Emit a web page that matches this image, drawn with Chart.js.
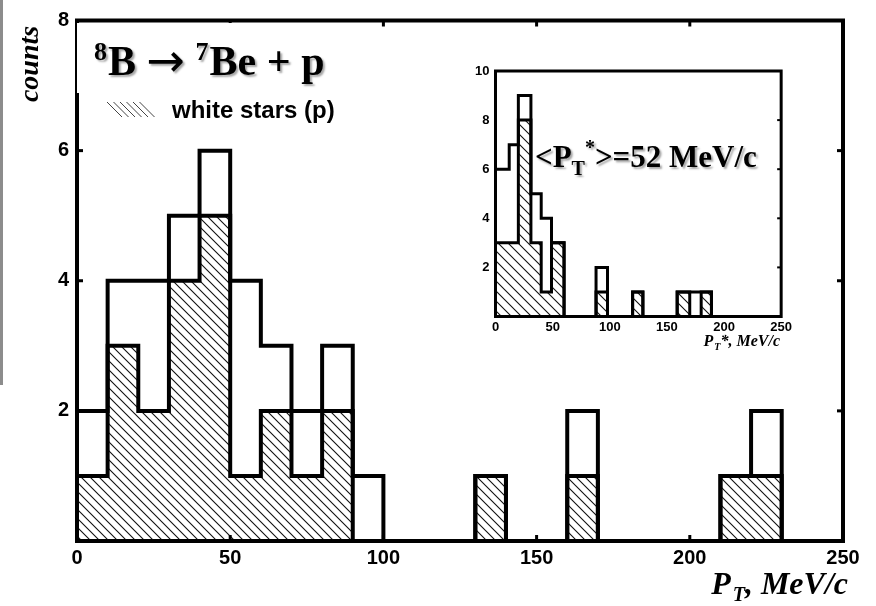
<!DOCTYPE html>
<html><head><meta charset="utf-8">
<script src="https://cdn.jsdelivr.net/npm/chart.js@4.4.0/dist/chart.umd.min.js"></script>
<style>
html,body{margin:0;padding:0;background:#fff;}
#wrap{position:relative;width:876px;height:606px;overflow:hidden;background:#fff;}
#main{position:absolute;left:0;top:0;}
#inset{position:absolute;left:445px;top:50px;}
</style></head><body>
<div id="wrap"><canvas id="main" width="876" height="606"></canvas><canvas id="inset" width="350" height="310"></canvas></div>
<script>
// ---------- main histogram data (P_T, MeV/c ; 10 MeV/c bins) ----------
const binStarts = [0,10,20,30,40,50,60,70,80,90,100,110,120,130,140,150,160,170,180,190,200,210,220,230,240];
const binWidth = 10;
const totalCounts      = [2,4,4,5,6,4,3,2,3,1,0,0,0,1,0,0,2,0,0,0,0,1,2,0,0];
const whiteStarCounts  = [1,3,2,4,5,1,2,1,2,0,0,0,0,1,0,0,1,0,0,0,0,1,1,0,0];
const xTicks = [0,50,100,150,200,250];
const yTicks = [0,2,4,6,8];

// ---------- inset histogram data (P_T*, MeV/c) ----------
const insetEdges = [0,12,20,31,40,49,60,88,98,120,129,159,170,180,189,250];
const insetTotal = [6,7,9,5,4,3,0,2,0,1,0,1,1,1,0];
const insetWhite = [3,3,8,3,1,3,0,1,0,1,0,1,0,1,0];
const insetXTicks = [0,50,100,150,200,250];
const insetYTicks = [0,2,4,6,8,10];

function mainPoints(counts){
  const pts = binStarts.map((s,i)=>({x:s,y:counts[i]}));
  pts.push({x:binStarts[binStarts.length-1]+binWidth,y:counts[counts.length-1]});
  return pts;
}
function edgePoints(edges,counts){
  const pts = counts.map((c,i)=>({x:edges[i],y:c}));
  pts.push({x:edges[edges.length-1],y:counts[counts.length-1]});
  return pts;
}
function hatch(ctx,size){
  const c=document.createElement('canvas'); c.width=size; c.height=size;
  const g=c.getContext('2d'); g.strokeStyle='#111'; g.lineWidth=1.1;
  g.beginPath();
  g.moveTo(-1,-1); g.lineTo(size+1,size+1);
  g.moveTo(-2,size-2); g.lineTo(2,size+2);
  g.moveTo(size-2,-2); g.lineTo(size+2,2);
  g.stroke();
  return ctx.createPattern(c,'repeat');
}
function runs(ctx,x,y,parts){
  let cx=x;
  parts.forEach(p=>{ctx.font=p.f; ctx.fillText(p.t,cx,y+(p.dy||0)); cx+=ctx.measureText(p.t).width+(p.gap||0);});
  return cx;
}
function line(ctx,a,b,c,d){ctx.beginPath();ctx.moveTo(a,b);ctx.lineTo(c,d);ctx.stroke();}

const SANS='"Liberation Sans", Arial, sans-serif';
const SERIF='"Liberation Serif", "Times New Roman", serif';

// ---------------- main chart ----------------
const mctx=document.getElementById('main').getContext('2d');
const mainDecor={
  id:'mainDecor',
  afterDatasetsDraw(chart){
    const ctx=chart.ctx; const {left,right,top,bottom}=chart.chartArea;
    const xs=chart.scales.x, ys=chart.scales.y;
    ctx.save();
    ctx.strokeStyle='#000'; ctx.lineWidth=4;
    ctx.strokeRect(left,top,right-left,bottom-top);
    ctx.lineWidth=3;
    xTicks.forEach(v=>{ if(v===xTicks[0]||v===xTicks[xTicks.length-1])return;
      const px=xs.getPixelForValue(v); line(ctx,px,bottom,px,bottom-6); line(ctx,px,top,px,top+6);});
    yTicks.forEach(v=>{ if(v===yTicks[0]||v===yTicks[yTicks.length-1])return;
      const py=ys.getPixelForValue(v); line(ctx,left,py,left+6,py); line(ctx,right,py,right-6,py);});
    // white title box
    ctx.fillStyle='#fff'; ctx.fillRect(left,top+2.5,270,93-top-2.5);
    // scanning artefact at left edge
    ctx.fillStyle='#8c8c8c'; ctx.fillRect(0,0,3,385);
    // title with shadow
    ctx.fillStyle='#000'; ctx.textBaseline='alphabetic'; ctx.textAlign='left';
    ctx.shadowColor='rgba(0,0,0,0.35)'; ctx.shadowOffsetX=2; ctx.shadowOffsetY=2; ctx.shadowBlur=2;
    runs(ctx,94,75,[
      {t:'8',f:'bold 26px '+SERIF,dy:-15,gap:1},
      {t:'B ',f:'bold 42px '+SERIF},
      {t:'\u2192',f:'46px "DejaVu Sans", sans-serif',dy:1},
      {t:' ',f:'bold 42px '+SERIF},
      {t:'7',f:'bold 26px '+SERIF,dy:-15,gap:1},
      {t:'Be + p',f:'bold 42px '+SERIF}
    ]);
    ctx.shadowColor='transparent'; ctx.shadowBlur=0; ctx.shadowOffsetX=0; ctx.shadowOffsetY=0;
    // legend
    ctx.strokeStyle='#444'; ctx.lineWidth=1;
    for(let i=0;i<6;i++){ const x0=107+i*6.5; line(ctx,x0,102,x0+15,117); }
    ctx.font='bold 24px '+SANS; ctx.fillStyle='#000';
    ctx.fillText('white stars (p)',172,118);
    // y title
    ctx.save(); ctx.translate(38,64); ctx.rotate(-Math.PI/2);
    ctx.font='italic bold 28px '+SERIF; ctx.textAlign='center'; ctx.fillText('counts',0,0); ctx.restore();
    // x title
    ctx.textAlign='left';
    const parts=[{t:'P',f:'italic bold 32px '+SERIF,gap:2},{t:'T',f:'italic bold 20px '+SERIF,dy:7},{t:', MeV/c',f:'italic bold 32px '+SERIF}];
    let w=0; parts.forEach(p=>{ctx.font=p.f; w+=ctx.measureText(p.t).width+(p.gap||0);});
    runs(ctx,848-w,594,parts);
    ctx.restore();
  }
};
new Chart(mctx,{
  type:'line',
  data:{datasets:[
    {label:'all',data:mainPoints(totalCounts),stepped:true,borderColor:'#000',borderWidth:4,pointRadius:0,fill:false,order:0},
    {label:'white stars (p)',data:mainPoints(whiteStarCounts),stepped:true,borderColor:'#000',borderWidth:4,pointRadius:0,fill:'origin',backgroundColor:hatch(mctx,9),order:1}
  ]},
  options:{
    responsive:false,animation:false,devicePixelRatio:1,
    layout:{padding:{top:20.5,right:33,left:0,bottom:0}},
    plugins:{legend:{display:false},tooltip:{enabled:false}},
    scales:{
      x:{type:'linear',min:0,max:250,afterBuildTicks:s=>{s.ticks=xTicks.map(v=>({value:v}));},
        grid:{display:false,drawTicks:false},border:{display:false},
        ticks:{color:'#000',font:{family:SANS,weight:'bold',size:20},padding:5,maxRotation:0},
        afterFit:s=>{s.height=65;}},
      y:{type:'linear',min:0,max:8,afterBuildTicks:s=>{s.ticks=yTicks.map(v=>({value:v}));},
        grid:{display:false,drawTicks:false},border:{display:false},
        ticks:{color:'#000',font:{family:SANS,weight:'bold',size:20},padding:8,callback:v=>v===0?'':v},
        afterFit:s=>{s.width=77;}}
    }
  },
  plugins:[mainDecor]
});

// ---------------- inset chart ----------------
const ictx=document.getElementById('inset').getContext('2d');
const insetDecor={
  id:'insetDecor',
  afterDatasetsDraw(chart){
    const ctx=chart.ctx; const {left,right,top,bottom}=chart.chartArea;
    const ys=chart.scales.y;
    ctx.save();
    ctx.strokeStyle='#000'; ctx.lineWidth=3;
    ctx.strokeRect(left,top,right-left,bottom-top);
    ctx.lineWidth=2;
    insetYTicks.forEach(v=>{ if(v===0||v===insetYTicks[insetYTicks.length-1])return;
      const py=ys.getPixelForValue(v); line(ctx,right,py,right-4,py);});
    ctx.fillStyle='#000'; ctx.textAlign='left'; ctx.textBaseline='alphabetic';
    ctx.shadowColor='rgba(0,0,0,0.35)'; ctx.shadowOffsetX=2; ctx.shadowOffsetY=2; ctx.shadowBlur=2;
    runs(ctx,90,117,[
      {t:'<P',f:'bold 31px '+SERIF},
      {t:'T',f:'bold 20px '+SERIF,dy:8},
      {t:'*',f:'bold 20px '+SERIF,dy:-13},
      {t:'>=52 MeV/c',f:'bold 31px '+SERIF}
    ]);
    ctx.shadowColor='transparent'; ctx.shadowBlur=0; ctx.shadowOffsetX=0; ctx.shadowOffsetY=0;
    const parts=[{t:'P',f:'italic bold 16px '+SERIF,gap:1},{t:'T',f:'italic bold 10px '+SERIF,dy:4},{t:'*, MeV/c',f:'italic bold 16px '+SERIF}];
    let w=0; parts.forEach(p=>{ctx.font=p.f; w+=ctx.measureText(p.t).width+(p.gap||0);});
    runs(ctx,335-w,296,parts);
    ctx.restore();
  }
};
new Chart(ictx,{
  type:'line',
  data:{datasets:[
    {label:'all',data:edgePoints(insetEdges,insetTotal),stepped:true,borderColor:'#000',borderWidth:3,pointRadius:0,fill:false,order:0},
    {label:'white stars (p)',data:edgePoints(insetEdges,insetWhite),stepped:true,borderColor:'#000',borderWidth:3,pointRadius:0,fill:'origin',backgroundColor:hatch(ictx,10),order:1}
  ]},
  options:{
    responsive:false,animation:false,devicePixelRatio:1,
    layout:{padding:{top:21,right:13.5,left:0,bottom:0}},
    plugins:{legend:{display:false},tooltip:{enabled:false}},
    scales:{
      x:{type:'linear',min:0,max:250,afterBuildTicks:s=>{s.ticks=insetXTicks.map(v=>({value:v}));},
        grid:{display:false,drawTicks:false},border:{display:false},
        ticks:{color:'#000',font:{family:SANS,weight:'bold',size:13},padding:3,maxRotation:0},
        afterFit:s=>{s.height=43.5;}},
      y:{type:'linear',min:0,max:10,afterBuildTicks:s=>{s.ticks=insetYTicks.map(v=>({value:v}));},
        grid:{display:false,drawTicks:false},border:{display:false},
        ticks:{color:'#000',font:{family:SANS,weight:'bold',size:13},padding:6,callback:v=>v===0?'':v},
        afterFit:s=>{s.width=50.5;}}
    }
  },
  plugins:[insetDecor]
});
</script>
</body></html>
